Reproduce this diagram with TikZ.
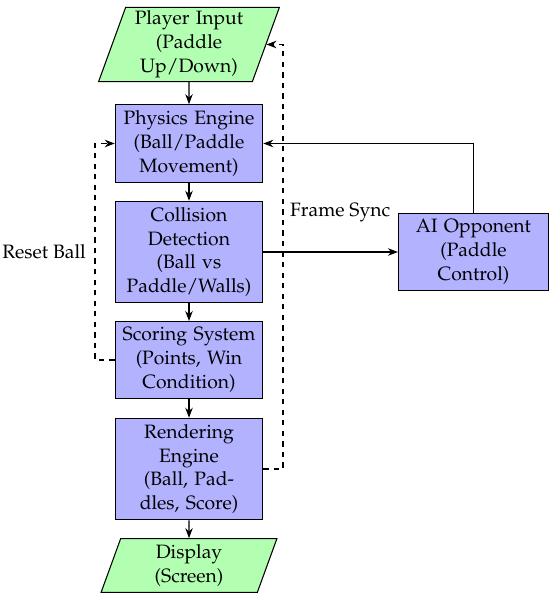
\documentclass[tikz,border=0pt]{standalone}
\usepackage[T1]{fontenc}
\usepackage{mathpazo}
\usepackage{tikz}
\usetikzlibrary{arrows.meta, positioning, shapes.geometric}
\tikzset{
  every node/.style={font=\fontsize{11}{13.6}\selectfont},
  procbox/.style={draw, semithick, fill=blue!30, text width=2.7cm, align=center,
    minimum width=2.95cm, minimum height=1.5cm},
  iobox/.style={draw, semithick, fill=green!30, trapezium, trapezium left angle=70,
    trapezium right angle=110, text width=2.3cm, align=center,
    trapezium stretches body},
  flow/.style={->, semithick},
  loopback/.style={->, semithick, dashed}
}

\begin{document}
\begin{tikzpicture}[>=Stealth]
\useasboundingbox (-3.78,0.89) rectangle (7.22,-11.09);

% Main pipeline
\node[iobox, inner ysep=2pt] (input) at (0,0) {Player Input (Paddle Up/Down)};
\node[procbox] (physics) at (0,-1.98) {Physics Engine (Ball/Paddle Movement)};
\node[procbox] (collision) at (0,-4.15) {Collision Detection (Ball vs Paddle/Walls)};
\node[procbox] (scoring) at (0,-6.31) {Scoring System (Points, Win Condition)};
\node[procbox] (render) at (0,-8.49) {Rendering\\Engine\\(Ball, Pad-\\dles, Score)};
\node[iobox, text width=2.5cm, minimum height=1.05cm] (display) at (0,-10.42) {Display (Screen)};

% AI side
\node[procbox, minimum width=3cm] (ai) at (5.69,-4.15) {AI Opponent (Paddle Control)};

% Flow arrows
\draw[flow] (input) -- (physics);
\draw[flow] (physics) -- (collision);
\draw[flow] (collision) -- (scoring);
\draw[flow] (scoring) -- (render);
\draw[flow] (render) -- (display);
\draw[flow] (collision) -- (ai);
\draw[flow] (ai.north) |- (physics.east);

% Feedback loops
\coordinate (resetcorner) at (-1.88,-6.31);
\coordinate (synccorner) at (1.88,-8.49);
\draw[loopback] (scoring.west) -- (resetcorner) |- (physics.west);
\draw[loopback] (render.east) -- (synccorner) |- (input.east);
\node[anchor=east] (resetlabel) at (-1.94,-4.15) {Reset Ball};
\node[anchor=west] (synclabel) at (1.9,-3.37) {Frame Sync};

\end{tikzpicture}
\end{document}
